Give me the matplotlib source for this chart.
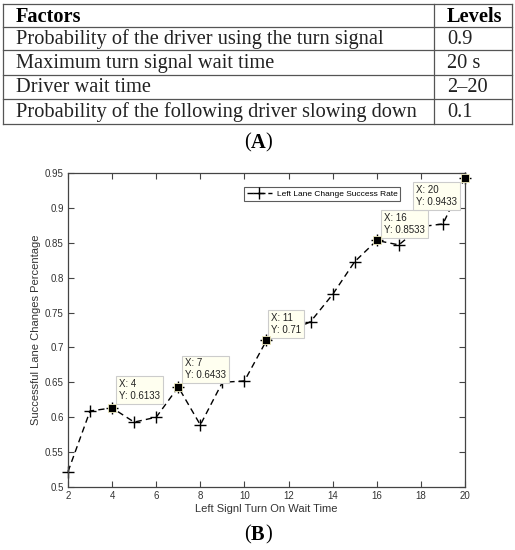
import matplotlib.pyplot as plt

# table (A)
factors = [
    "Probability of the driver using the turn signal",
    "Maximum turn signal wait time",
    "Driver wait time",
    "Probability of the following driver slowing down",
]
levels = ["0.9", "20 s", "2\u201320", "0.1"]

# chart (B)
wait_time = [2, 3, 4, 5, 6, 7, 8, 9, 10, 11, 12, 13, 14, 15, 16, 17, 18, 19, 20]
success_rate = [0.522, 0.609, 0.6133, 0.593, 0.600, 0.6433, 0.589, 0.650, 0.652, 0.71,
                0.722, 0.737, 0.776, 0.823, 0.8533, 0.847, 0.873, 0.877, 0.9433]
tip_x = [4, 7, 11, 16, 20]

W, H = 515, 550
fig = plt.figure(figsize=(W / 100, H / 100), dpi=100)

# --- table drawn in pixel coordinates ---
tab = fig.add_axes([0, 0, 1, 1])
tab.set_xlim(0, W)
tab.set_ylim(H, 0)
tab.axis("off")
row_y = [4, 27, 50, 75, 99, 124]
left, mid, right = 3, 434, 512
for y in row_y:
    tab.plot([left, right], [y, y], color="#555555", lw=0.9)
for x in (left, mid, right):
    tab.plot([x, x], [row_y[0], row_y[-1]], color="#555555", lw=0.9)

serif = "Liberation Serif"
fs = 14.7
tab.text(16, (row_y[0] + row_y[1]) / 2 + 1, "Factors", family=serif, fontsize=fs,
         weight="bold", va="center")
tab.text(447, (row_y[0] + row_y[1]) / 2 + 1, "Levels", family=serif, fontsize=fs,
         weight="bold", va="center")
for i, (f, l) in enumerate(zip(factors, levels)):
    yc = (row_y[i + 1] + row_y[i + 2]) / 2 + 1
    tab.text(16, yc, f, family=serif, fontsize=fs, va="center", color="#222222")
    tab.text(447, yc, l, family=serif, fontsize=fs, va="center", color="#222222")


def panel_label(xc, yc, letter):
    tab.text(xc - 7, yc, "(", family=serif, fontsize=fs, va="center", ha="right")
    tab.text(xc, yc, letter, family=serif, fontsize=fs, va="center", ha="center",
             weight="bold")
    tab.text(xc + 7, yc, ")", family=serif, fontsize=fs, va="center", ha="left")


panel_label(258, 143, "A")
panel_label(258, 535, "B")

# --- line chart ---
ax = fig.add_axes([68 / W, 1 - 487 / H, (465 - 68) / W, (487 - 173) / H])
ax.plot(wait_time, success_rate, color="black", ls=(0, (4.5, 3)), lw=1.0,
        marker="+", ms=9, mew=1.0, label="Left Lane Change Success Rate", zorder=2,
        clip_on=False)
ax.set_xlim(2, 20)
ax.set_ylim(0.5, 0.95)
ax.set_xticks(range(2, 21, 2))
ax.set_yticks([0.5, 0.55, 0.6, 0.65, 0.7, 0.75, 0.8, 0.85, 0.9, 0.95])
ax.set_yticklabels(["0.5", "0.55", "0.6", "0.65", "0.7", "0.75", "0.8", "0.85", "0.9", "0.95"])
ax.tick_params(direction="in", top=True, right=True, length=4, width=0.8,
               labelsize=7, colors="#444444", labelcolor="#333333", pad=3)
for s in ax.spines.values():
    s.set_color("#444444")
    s.set_linewidth(0.9)
sans = "Liberation Sans"
for lab in ax.get_xticklabels() + ax.get_yticklabels():
    lab.set_family(sans)
ax.set_xlabel("Left Signl Turn On Wait Time", family=sans, fontsize=8, color="#333333",
              labelpad=2)
ax.set_ylabel("Successful Lane Changes Percentage", family=sans, fontsize=8,
              color="#333333", labelpad=3)

leg = ax.legend(loc="upper right", bbox_to_anchor=(0.837, 0.955),
                prop={"family": sans, "size": 6}, frameon=True, fancybox=False,
                handlelength=3.0, borderpad=0.35, handletextpad=0.6, borderaxespad=0)
leg.get_frame().set_edgecolor("#333333")
leg.get_frame().set_linewidth(0.8)

# data tips
offsets = {4: (5, 5), 7: (5, 5), 11: (3.5, 4), 16: (5, 4), 20: (-6, -5.5)}
for x in tip_x:
    y = success_rate[wait_time.index(x)]
    ax.plot([x], [y], marker="s", ms=5.5, mfc="black", mec="#f0ecc0", mew=0.6,
            zorder=5, clip_on=False)
    dx, dy = offsets[x]
    ha = "left" if dx > 0 else "right"
    va = "bottom" if dy > 0 else "top"
    txt = "X: %d\nY: %s" % (x, ("%.4f" % y).rstrip("0"))
    ax.annotate(txt, (x, y), xytext=(dx, dy), textcoords="offset points",
                ha=ha, va=va, multialignment="left", fontsize=7, family=sans,
                linespacing=1.2, color="#222222",
                bbox=dict(boxstyle="square,pad=0.3", fc="#fffff0", ec="#cccccc", lw=0.8),
                zorder=4)

fig.savefig("out.png", dpi=100)
